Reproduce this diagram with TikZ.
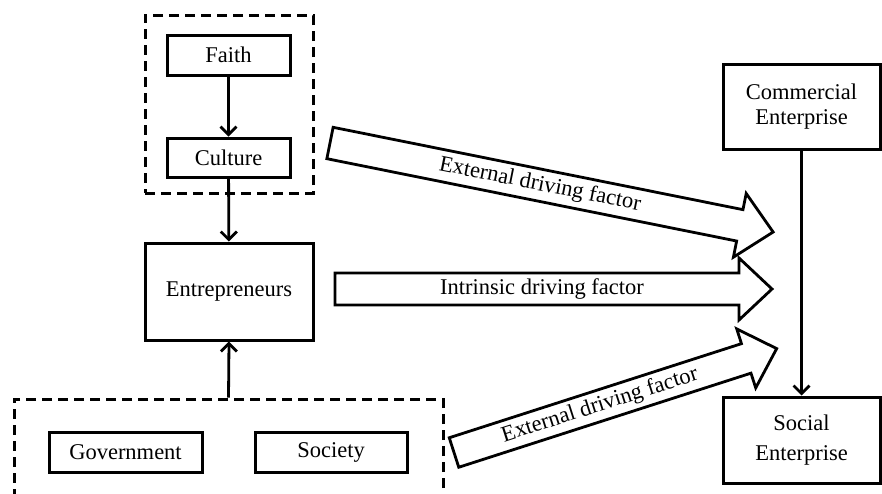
\documentclass[tikz,border=0pt]{standalone}
\usepackage{fontspec}
\setmainfont{Liberation Serif}
\usetikzlibrary{arrows.meta}
\begin{document}
\begin{tikzpicture}[x=1pt,y=-1pt,
  box/.style={draw, line width=3pt, rectangle, inner sep=0pt, align=center, font=\fontsize{22.5}{26}\selectfont},
  dashbox/.style={draw, line width=3pt, dash pattern=on 10pt off 6pt, rectangle, inner sep=0pt},
  conn/.style={line width=2.8pt, -{Straight Barb[length=8pt,width=16pt]}},
  blockarrow/.style={draw, line width=2.8pt, fill=white, line join=miter},
  lbl/.style={font=\fontsize{22.5}{26}\selectfont, inner sep=0pt}]
\useasboundingbox (0,0) rectangle (882,493);
\clip (0,0) rectangle (882,493);
\fill[white] (0,0) rectangle (882,493);

% dashed groups
\node[dashbox, minimum width=168pt, minimum height=178pt] (top) at (229,104) {};
\node[dashbox, minimum width=429pt, minimum height=140pt] (bot) at (228.5,469) {};

% boxes
\node[box, minimum width=123pt, minimum height=40pt] (faith) at (228.5,55) {Faith};
\node[box, minimum width=123pt, minimum height=39pt] (cult) at (228.5,157.5) {Culture};
\node[box, minimum width=168pt, minimum height=97pt] (ent) at (229,291.5) {Entrepreneurs};
\node[box, minimum width=153pt, minimum height=40pt] (gov) at (125.5,452) {Government};
\node[box, minimum width=152pt, minimum height=40pt] (soc2) at (331,452) {Society};
\node[box, minimum width=157pt, minimum height=85pt, font=\fontsize{22.5}{25}\selectfont] (com) at (801.5,106.5) {Commercial\\Enterprise};
\node[box, minimum width=157pt, minimum height=86pt, font=\fontsize{22.5}{30}\selectfont] (soc) at (801.5,440) {Social\\Enterprise};

% connectors
\draw[conn] (faith) -- (cult);
\draw[conn] (cult) -- (ent);
\draw[conn] (bot.north) -- (ent.south);
\draw[conn] (com) -- (soc);

% block arrows
\begin{scope}[shift={(330,143)}, rotate=-11.36]
  \draw[blockarrow] (0,-16) -- (418,-16) -- (418,-32.5) -- (452,0) -- (418,32.5) -- (418,16) -- (0,16) -- cycle;
\end{scope}
\begin{scope}[shift={(335,289)}]
  \draw[blockarrow] (0,-16) -- (404,-16) -- (404,-31) -- (437,0) -- (404,31) -- (404,16) -- (0,16) -- cycle;
\end{scope}
\begin{scope}[shift={(454,452.5)}, rotate=17.85]
  \draw[blockarrow] (0,-15.5) -- (307,-15.5) -- (307,-31) -- (339,0) -- (307,31) -- (307,15.5) -- (0,15.5) -- cycle;
\end{scope}

\node[lbl, rotate=-11.36] (ext1) at (540,185) {External driving factor};
\node[lbl] (intr) at (542,289) {Intrinsic driving factor};
\node[lbl, rotate=17.85] (ext2) at (600,405.5) {External driving factor};
\end{tikzpicture}
\end{document}
